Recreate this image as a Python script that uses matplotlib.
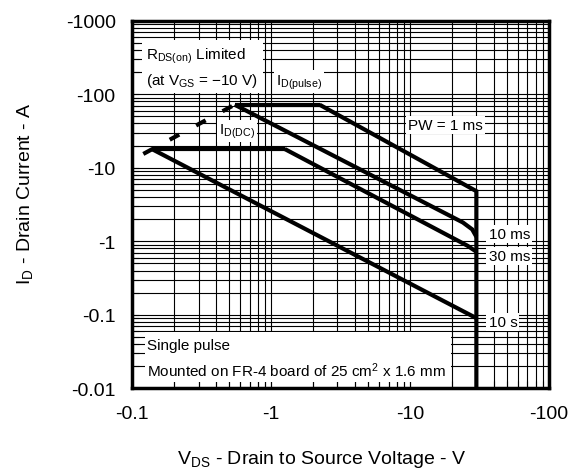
"""Safe operating area chart (log-log), drawn with matplotlib."""

import matplotlib
matplotlib.use('Agg')
import matplotlib.pyplot as plt
from matplotlib.patches import Rectangle
from matplotlib.ticker import FixedLocator, FuncFormatter, LogLocator, NullFormatter

plt.rcParams['font.family'] = ['Liberation Sans', 'DejaVu Sans']
plt.rcParams['mathtext.fontset'] = 'custom'
plt.rcParams['mathtext.rm'] = 'Liberation Sans'
plt.rcParams['mathtext.it'] = 'Liberation Sans:italic'

# --- data (|V_DS| in V, |I_D| in A) ---
rds_v = [0.12, 0.546]          # R_DS(on) limit, dashed
rds_i = [15.4, 72]
pulse_v = [0.546, 2.23]        # I_D(pulse) plateau
pulse_i = [72, 72]
pw1ms_v = [2.23, 30, 30]
pw1ms_i = [72, 4.8, 0.01]
pw10ms_v = [0.546, 24, 28, 30]
pw10ms_i = [72, 1.8, 1.45, 1.15]
pw30ms_v = [1.25, 26, 30]
pw30ms_i = [18, 0.865, 0.72]
dc_v = [0.138, 1.25]           # I_D(DC) plateau
dc_i = [18, 18]
pw10s_v = [0.138, 30]
pw10s_i = [18, 0.09]

x_ticks = [0.1, 1, 10, 100]
y_ticks = [0.01, 0.1, 1, 10, 100, 1000]

fig = plt.figure(figsize=(5.73, 4.77), dpi=100)
ax = fig.add_axes([0.2309, 0.1839, 0.7272, 0.7706])
ax.set_xscale('log')
ax.set_yscale('log')
ax.set_xlim(0.1, 100)
ax.set_ylim(0.01, 1000)

ax.xaxis.set_major_locator(FixedLocator(x_ticks))
ax.yaxis.set_major_locator(FixedLocator(y_ticks))
ax.xaxis.set_minor_locator(LogLocator(base=10, subs=range(2, 10)))
ax.yaxis.set_minor_locator(LogLocator(base=10, subs=range(2, 10)))
neg = FuncFormatter(lambda v, pos: f'-{v:g}')
ax.xaxis.set_major_formatter(neg)
ax.yaxis.set_major_formatter(neg)
ax.xaxis.set_minor_formatter(NullFormatter())
ax.yaxis.set_minor_formatter(NullFormatter())
ax.tick_params(which='both', direction='in', length=5, width=0.8, labelsize=14)
ax.tick_params(axis='x', pad=12)
ax.tick_params(axis='y', pad=12)
ax.grid(which='both', color='black', lw=0.8)
ax.set_axisbelow(True)
for sp in ax.spines.values():
    sp.set_linewidth(2.5)

lw = 3
kw = dict(color='black', lw=lw, solid_capstyle='butt', solid_joinstyle='miter', zorder=3)
ax.plot(rds_v, rds_i, linestyle=(0, (2.6, 4.6)), dash_capstyle='butt',
        color='black', lw=lw, zorder=3)
ax.plot(pulse_v, pulse_i, **kw)
ax.plot(pw1ms_v, pw1ms_i, **kw)
ax.plot(pw10ms_v, pw10ms_i, **kw)
ax.plot(pw30ms_v, pw30ms_i, **kw)
ax.plot(dc_v, dc_i, **kw)
ax.plot(pw10s_v, pw10s_i, **kw)

# white note panel at the bottom-left
ax.add_patch(Rectangle((0.031, 0.018), 0.735, 0.135, transform=ax.transAxes,
                       facecolor='white', edgecolor='none', zorder=2))

box = dict(facecolor='white', edgecolor='none', pad=1.5)
tk = dict(fontsize=11, zorder=4, transform=ax.transAxes)
ax.text(0.034, 0.933, r'$\mathregular{R_{DS(on)}}$ Limited' + '\n'
        + r'(at $\mathregular{V_{GS}}$ = $\mathregular{-}$10 V)',
        ha='left', va='top', linespacing=1.5,
        bbox=dict(facecolor='white', edgecolor='none', pad=3), **tk)
ax.text(0.345, 0.835, r'$\mathregular{I_{D(pulse)}}$', ha='left', va='center',
        bbox=box, **tk)
ax.text(0.208, 0.70, r'$\mathregular{I_{D(DC)}}$', ha='left', va='center',
        bbox=box, **tk)
ax.text(0.662, 0.716, 'PW = 1 ms', ha='left', va='center', bbox=box, **tk)
ax.text(0.855, 0.42, '10 ms', ha='left', va='center', bbox=box, **tk)
ax.text(0.855, 0.36, '30 ms', ha='left', va='center', bbox=box, **tk)
ax.text(0.855, 0.18, '10 s', ha='left', va='center', bbox=box, **tk)
ax.text(0.036, 0.118, 'Single pulse', ha='left', va='center', **tk)
ax.text(0.036, 0.05, r'Mounted on FR-4 board of 25 cm$\mathregular{^2}$ x 1.6 mm',
        ha='left', va='center', **tk)

fig.text(322 / 573, 1 - 460 / 477,
         r'$\mathregular{V_{DS}}$ - Drain to Source Voltage - V',
         ha='center', va='center', fontsize=14)
fig.text(25 / 573, 1 - 194 / 477, r'$\mathregular{I_D}$ - Drain Current - A',
         ha='center', va='center', rotation=90, fontsize=14)

fig.savefig('out.png', dpi=100)
